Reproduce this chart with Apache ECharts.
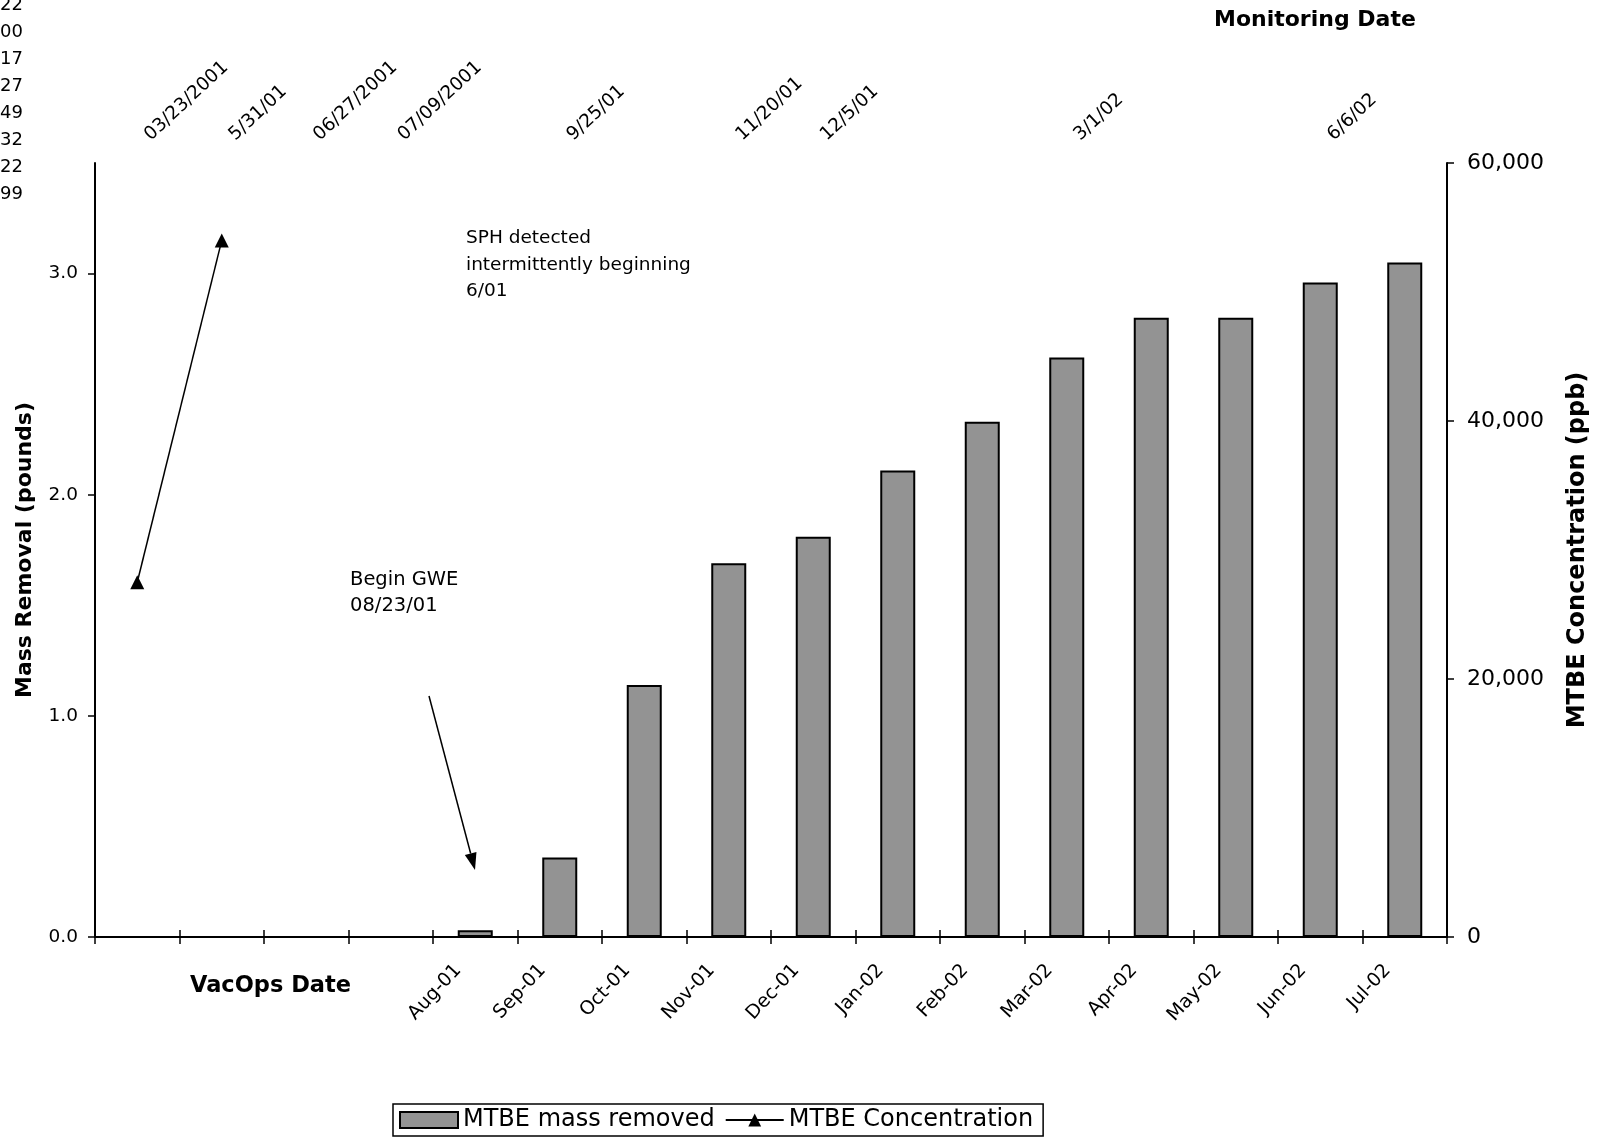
<!DOCTYPE html>
<html>
<head>
<meta charset="utf-8">
<script src="https://cdn.jsdelivr.net/npm/echarts@6/dist/echarts.min.js"></script>
<style>html,body{margin:0;padding:0;background:#fff}#c{width:1609px;height:1138px}</style>
</head>
<body>
<div id="c"></div>
<script>
// Bottom axis: VacOps months (first four slots unlabeled)
var vacOpsLabels = ['', '', '', '', 'Aug-01', 'Sep-01', 'Oct-01', 'Nov-01', 'Dec-01', 'Jan-02', 'Feb-02', 'Mar-02', 'Apr-02', 'May-02', 'Jun-02', 'Jul-02'];
// Top axis: monitoring dates
var monitoringLabels = ['03/23/2001', '5/31/01', '06/27/2001', '07/09/2001', '', '9/25/01', '', '11/20/01', '12/5/01', '', '', '3/1/02', '', '', '6/6/02', ''];
// MTBE mass removed (pounds)
var massRemoved = [null, null, null, null, 0.03, 0.36, 1.14, 1.69, 1.81, 2.11, 2.33, 2.62, 2.80, 2.80, 2.96, 3.05];
// MTBE concentration (ppb)
var concentration = [27500, 54000, null, null, null, null, null, null, null, null, null, null, null, null, null, null];
// Cropped table fragment at left edge
var edgeFragments = ['22', '00', '17', '27', '49', '32', '22', '99'];

var FONT = '"DejaVu Sans", "Liberation Sans", Arial, sans-serif';
var chart = echarts.init(document.getElementById('c'));

var graphics = [];
edgeFragments.forEach(function (t, i) {
  graphics.push({ type: 'text', x: 23, y: 5 + i * 27.1,
    style: { text: t, font: '18px ' + FONT, fill: '#000', textAlign: 'right', textVerticalAlign: 'middle' } });
});
graphics.push({ type: 'text', x: 1214, y: 20,
  style: { text: 'Monitoring Date', font: 'bold 22px ' + FONT, fill: '#000', textVerticalAlign: 'middle' } });
graphics.push({ type: 'text', x: 190, y: 986,
  style: { text: 'VacOps Date', font: 'bold 22.5px ' + FONT, fill: '#000', textVerticalAlign: 'middle' } });
graphics.push({ type: 'text', x: 466, y: 225,
  style: { text: 'SPH detected\nintermittently beginning\n6/01', font: '18.5px ' + FONT, fill: '#000', lineHeight: 26.5 } });
graphics.push({ type: 'text', x: 350, y: 567,
  style: { text: 'Begin GWE\n08/23/01', font: '19.5px ' + FONT, fill: '#000', lineHeight: 26 } });
// arrow
(function () {
  var x1 = 429, y1 = 696, x2 = 475, y2 = 870;
  var ang = Math.atan2(y2 - y1, x2 - x1);
  var L = 17, W = 6;
  var bx = x2 - L * Math.cos(ang), by = y2 - L * Math.sin(ang);
  var px = -Math.sin(ang) * W, py = Math.cos(ang) * W;
  graphics.push({ type: 'line', shape: { x1: x1, y1: y1, x2: bx, y2: by }, style: { stroke: '#000', lineWidth: 1.5 } });
  graphics.push({ type: 'polygon', shape: { points: [[x2, y2], [bx + px, by + py], [bx - px, by - py]] }, style: { fill: '#000' } });
})();

chart.setOption({
  backgroundColor: '#fff',
  animation: false,
  grid: { left: 95, right: 162, top: 163, bottom: 201, show: false },
  legend: {
    top: 1104, left: 393,
    borderColor: '#000', borderWidth: 1.5, borderRadius: 0,
    padding: [4, 10, 4, 6], itemGap: 10, itemWidth: 58, itemHeight: 16,
    textStyle: { fontFamily: FONT, fontSize: 24, color: '#000' },
    data: [{ name: 'MTBE mass removed', icon: 'rect' }, { name: 'MTBE Concentration' }]
  },
  xAxis: [
    {
      type: 'category', position: 'bottom', data: vacOpsLabels, boundaryGap: true,
      axisLine: { lineStyle: { color: '#000', width: 2 } },
      axisTick: { show: true, interval: 0, length: 7, lineStyle: { color: '#000', width: 1.5 } },
      axisLabel: { interval: 0, rotate: 47, fontFamily: FONT, fontSize: 19, color: '#000', margin: 12, padding: [0, 25, 0, 0] }
    },
    {
      type: 'category', position: 'top', data: monitoringLabels, boundaryGap: true,
      axisLine: { lineStyle: { color: '#000', width: 2 } },
      axisTick: { show: true, interval: 0, length: 7, lineStyle: { color: '#000', width: 1.5 } },
      axisLabel: { interval: 0, rotate: 43, fontFamily: FONT, fontSize: 18.5, color: '#000', margin: 16, padding: [0, 0, 0, 14] }
    }
  ],
  yAxis: [
    {
      type: 'value', position: 'left', min: 0, max: 3.5, interval: 1,
      name: 'Mass Removal (pounds)', nameLocation: 'middle', nameGap: 59,
      nameTextStyle: { fontFamily: FONT, fontSize: 22, fontWeight: 'bold', color: '#000' },
      axisLine: { show: true, lineStyle: { color: '#000', width: 2 } },
      axisTick: { show: true, length: 7, lineStyle: { color: '#000', width: 1.5 } },
      axisLabel: { fontFamily: FONT, fontSize: 18.5, color: '#000', margin: 17, showMaxLabel: false,
        formatter: function (v) { return v > 3.4 ? '' : v.toFixed(1); } },
      splitLine: { show: false }
    },
    {
      type: 'value', position: 'right', min: 0, max: 60000, interval: 20000,
      name: 'MTBE Concentration (ppb)', nameLocation: 'middle', nameGap: 119, nameRotate: 90,
      nameTextStyle: { fontFamily: FONT, fontSize: 24, fontWeight: 'bold', color: '#000' },
      axisLine: { show: true, lineStyle: { color: '#000', width: 2 } },
      axisTick: { show: true, length: 7, lineStyle: { color: '#000', width: 1.5 } },
      axisLabel: { fontFamily: FONT, fontSize: 22, color: '#000', margin: 20,
        formatter: function (v) { return v.toLocaleString('en-US'); } },
      splitLine: { show: false }
    }
  ],
  series: [
    {
      name: 'MTBE mass removed', type: 'bar', xAxisIndex: 0, yAxisIndex: 0,
      data: massRemoved, barWidth: 35,
      itemStyle: { color: '#939393', borderColor: '#000', borderWidth: 2 }
    },
    {
      name: 'MTBE Concentration', type: 'line', xAxisIndex: 1, yAxisIndex: 1,
      data: concentration, symbol: 'triangle', symbolSize: 14, connectNulls: false,
      lineStyle: { color: '#000', width: 1.5 },
      itemStyle: { color: '#000' }
    }
  ],
  graphic: graphics
});
</script>
</body>
</html>
